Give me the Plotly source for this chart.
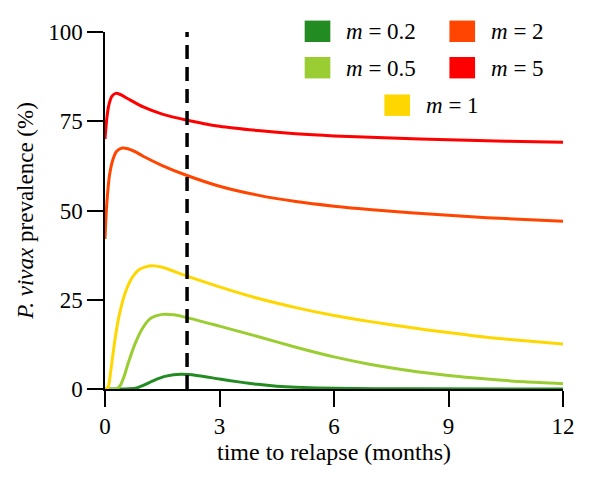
import plotly.graph_objects as go

# ---- data ----
t_red = [0, 0.05, 0.1, 0.18, 0.28, 0.4, 0.6, 1.0, 1.5, 2.15, 3, 4, 5, 6, 7.5, 9, 10.5, 12]
y_red = [70, 76, 79.5, 82, 82.8, 82.5, 81.3, 79, 77, 75.3, 73.6, 72.4, 71.5, 70.9, 70.3, 69.8, 69.4, 69.1]

t_orange = [0, 0.03, 0.07, 0.12, 0.2, 0.3, 0.45, 0.6, 0.8, 1.0, 1.5, 2.15, 3, 4, 5, 6, 7, 8, 9, 10, 11, 12]
y_orange = [42, 49, 55, 60, 64, 66.5, 67.5, 67.3, 66.4, 65.2, 62.6, 59.8, 56.8, 54.3, 52.5, 51.2, 50.2, 49.4, 48.7, 48.0, 47.5, 47.0]

t_yellow = [0, 0.08, 0.15, 0.25, 0.35, 0.5, 0.7, 0.9, 1.2, 1.5, 2.15, 3, 4, 5, 6, 7, 8, 9, 10, 11, 12]
y_yellow = [0, 0.5, 5, 13, 19.5, 26, 31, 33.5, 34.5, 34.1, 31.6, 28.6, 25.4, 22.8, 20.6, 18.8, 17.2, 15.8, 14.5, 13.5, 12.6]

t_lgreen = [0, 0.3, 0.4, 0.5, 0.6, 0.8, 1.0, 1.2, 1.5, 1.8, 2.15, 3, 4, 5, 6, 7, 8, 9, 10, 11, 12]
y_lgreen = [0, 0, 1, 3.5, 7, 13, 17.3, 19.8, 20.9, 20.8, 20.0, 17.6, 14.7, 11.7, 9.0, 6.8, 5.1, 3.8, 2.8, 2.0, 1.5]

t_dgreen = [0, 0.5, 0.8, 1.0, 1.3, 1.6, 2.0, 2.4, 3.0, 3.5, 4.0, 4.5, 5.0, 6.0, 8.0, 12]
y_dgreen = [0, 0, 0.2, 1.0, 2.5, 3.6, 4.1, 3.8, 2.8, 2.0, 1.3, 0.8, 0.5, 0.2, 0.05, 0]

relapse_time = 2.15

x_ticks = [0, 3, 6, 9, 12]
y_ticks = [0, 25, 50, 75, 100]

series = [
    ("0.2", t_dgreen, y_dgreen, "#228B22"),
    ("0.5", t_lgreen, y_lgreen, "#9ACD32"),
    ("1", t_yellow, y_yellow, "#FFD700"),
    ("2", t_orange, y_orange, "#FF4500"),
    ("5", t_red, y_red, "#FF0000"),
]

SERIF = "Liberation Serif, Times New Roman, serif"

fig = go.Figure()
for name, t, y, c in series:
    fig.add_trace(go.Scatter(x=t, y=y, mode="lines", name="m = " + name,
                             line=dict(color=c, width=3, shape="spline", smoothing=0.7),
                             showlegend=False, hoverinfo="skip"))

# dashed vertical line
fig.add_shape(type="line", x0=relapse_time, x1=relapse_time, y0=0, y1=100,
              xref="x", yref="y", line=dict(color="black", width=3.5, dash="14px,8px"))

# custom legend (2 columns + centered last row)
legend_items = [
    ("0.2", "#228B22", 0.436, 0.972, 0.522, 1.001),
    ("0.5", "#9ACD32", 0.436, 0.870, 0.522, 0.899),
    ("2", "#FF4500", 0.752, 0.972, 0.838, 1.001),
    ("5", "#FF0000", 0.752, 0.870, 0.838, 0.899),
    ("1", "#FFD700", 0.610, 0.765, 0.696, 0.794),
]
for lab, c, bx, by, tx, ty in legend_items:
    fig.add_shape(type="rect", xref="paper", yref="paper",
                  x0=bx, x1=bx + 0.056, y0=by, y1=by + 0.060,
                  fillcolor=c, line=dict(width=0))
    fig.add_annotation(xref="paper", yref="paper", x=tx, y=ty, xanchor="left", yanchor="middle",
                       text="<i>m</i> = " + lab, showarrow=False,
                       font=dict(family=SERIF, size=23, color="black"))

fig.update_layout(
    width=579, height=463,
    margin=dict(l=97, r=13, t=17, b=73),
    paper_bgcolor="white", plot_bgcolor="white",
    font=dict(family=SERIF, size=23, color="black"),
    xaxis=dict(range=[0, 12], tickvals=x_ticks, ticktext=[str(v) for v in x_ticks],
               showgrid=False, zeroline=False, showline=True, linecolor="black", linewidth=1.5,
               ticks="outside", ticklen=16, tickwidth=1.5, tickcolor="black",
               title=dict(text="time to relapse (months)", font=dict(family=SERIF, size=24), standoff=3)),
    yaxis=dict(range=[0, 100], tickvals=y_ticks, ticktext=[str(v) for v in y_ticks],
               showgrid=False, zeroline=False, showline=True, linecolor="black", linewidth=1.5,
               ticks="outside", ticklen=16, tickwidth=1.5, tickcolor="black",
               title=dict(text="<i>P. vivax</i> prevalence (%)", font=dict(family=SERIF, size=23), standoff=8)),
)

fig.write_html("out.html", config={"displayModeBar": False})
